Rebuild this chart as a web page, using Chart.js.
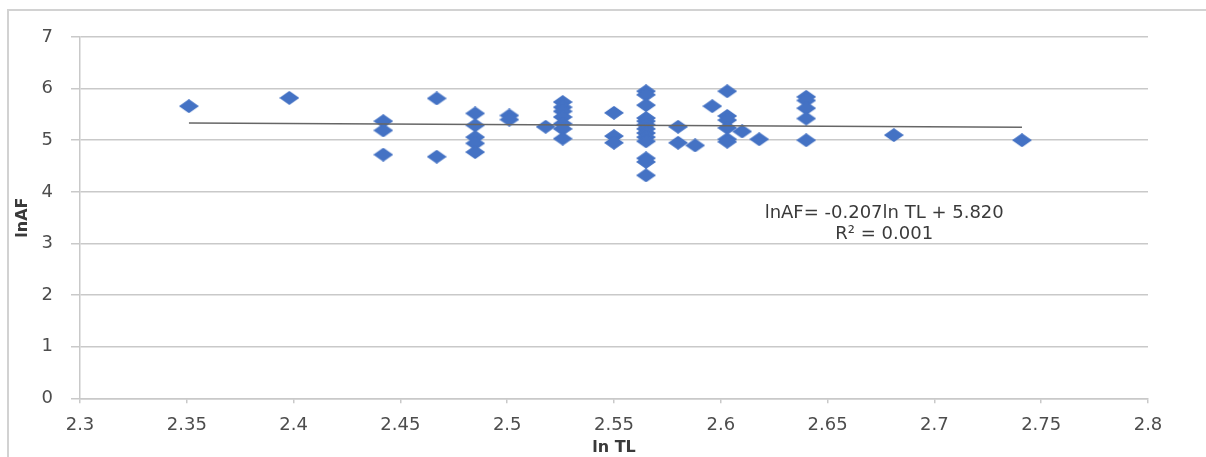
<!DOCTYPE html>
<html>
<head>
<meta charset="utf-8">
<script src="https://cdn.jsdelivr.net/npm/chart.js@4.4.1/dist/chart.umd.min.js"></script>
<style>
    html, body { margin: 0; padding: 0; background: #fff; overflow: hidden; }
    #scatter { display: block; }
</style>
</head>
<body>
<canvas id="scatter" width="1206" height="457"></canvas>
<script>
// ln TL (x) contra ln AF (y), un punto por ejemplar
const lnTL = [
    2.351,
    2.398,
    2.442, 2.442, 2.442,
    2.467, 2.467,
    2.485, 2.485, 2.485, 2.485, 2.485,
    2.501, 2.501,
    2.518,
    2.526, 2.526, 2.526, 2.526, 2.526, 2.526, 2.526,
    2.550, 2.550, 2.550,
    2.565, 2.565, 2.565, 2.565, 2.565, 2.565, 2.565, 2.565, 2.565, 2.565, 2.565, 2.565, 2.565,
    2.580, 2.580,
    2.588,
    2.596,
    2.603, 2.603, 2.603, 2.603, 2.603, 2.603,
    2.610,
    2.618,
    2.640, 2.640, 2.640, 2.640, 2.640,
    2.681,
    2.741,
];
const lnAF = [
    5.66,
    5.82,
    5.37, 5.19, 4.72,
    5.81, 4.68,
    5.52, 5.29, 5.06, 4.94, 4.77,
    5.48, 5.40,
    5.26,
    5.74, 5.64, 5.56, 5.45, 5.32, 5.22, 5.03,
    5.53, 5.08, 4.95,
    5.95, 5.88, 5.68, 5.43, 5.37, 5.30, 5.22, 5.14, 5.06, 4.98, 4.65, 4.58, 4.32,
    5.26, 4.95,
    4.90,
    5.66,
    5.95, 5.47, 5.39, 5.24, 5.02, 4.97,
    5.17,
    5.02,
    5.84, 5.77, 5.62, 5.42, 5.00,
    5.10,
    5.00,
];

const xTickValues = [2.3, 2.35, 2.4, 2.45, 2.5, 2.55, 2.6, 2.65, 2.7, 2.75, 2.8];
const xTickLabels = ['2.3', '2.35', '2.4', '2.45', '2.5', '2.55', '2.6', '2.65', '2.7', '2.75', '2.8'];
const yTickValues = [0, 1, 2, 3, 4, 5, 6, 7];

// recta de regresión: lnAF = -0.207 lnTL + 5.820
const trendSlope = -0.207;
const trendIntercept = 5.820;
const trendLines = ['lnAF= -0.207ln TL + 5.820', 'R\u00b2 = 0.001'];

const FONT = "'DejaVu Sans', sans-serif";
const GRID = '#c9c9c9';
const BLUE = '#4472C4';

const points = lnTL.map((x, i) => ({ x, y: lnAF[i] }));
const xMin = Math.min(...lnTL);
const xMax = Math.max(...lnTL);
const trend = [xMin, xMax].map(x => ({ x, y: trendSlope * x + trendIntercept }));

// rombo ancho, como el marcador de Excel
const diamond = document.createElement('canvas');
diamond.width = 20;
diamond.height = 14;
const dc = diamond.getContext('2d');
dc.fillStyle = BLUE;
dc.beginPath();
dc.moveTo(10, 0);
dc.lineTo(20, 7);
dc.lineTo(10, 14);
dc.lineTo(0, 7);
dc.closePath();
dc.fill();

// marco del área del gráfico (solo bordes izquierdo y superior)
const chartFrame = {
    id: 'chartFrame',
    beforeDraw(chart) {
        const { ctx, width, height } = chart;
        ctx.save();
        ctx.strokeStyle = '#d2d2d2';
        ctx.lineWidth = 2;
        ctx.beginPath();
        ctx.moveTo(8, height);
        ctx.lineTo(8, 10);
        ctx.lineTo(width, 10);
        ctx.stroke();
        ctx.restore();
    },
};

// texto de la ecuación junto a la recta
const trendText = {
    id: 'trendText',
    afterDatasetsDraw(chart) {
        const { ctx, scales: { x, y } } = chart;
        const cx = x.getPixelForValue(2.6765);
        const cy = y.getPixelForValue(3.59);
        ctx.save();
        ctx.fillStyle = '#3a3a3a';
        ctx.font = `18px ${FONT}`;
        ctx.textAlign = 'center';
        ctx.textBaseline = 'middle';
        trendLines.forEach((t, i) => ctx.fillText(t, cx, cy + i * 21));
        ctx.restore();
    },
};

new Chart(document.getElementById('scatter'), {
    type: 'scatter',
    data: {
        datasets: [
            {
                data: points,
                pointStyle: diamond,
                pointRadius: 8,
                pointHoverRadius: 8,
                order: 2,
            },
            {
                type: 'line',
                data: trend,
                borderColor: '#666',
                borderWidth: 1.5,
                pointRadius: 0,
                fill: false,
                order: 1,
            },
        ],
    },
    options: {
        responsive: false,
        animation: false,
        devicePixelRatio: 1,
        layout: { padding: { top: 37, right: 58, bottom: 0, left: 0 } },
        plugins: {
            legend: { display: false },
            tooltip: { enabled: false },
        },
        scales: {
            x: {
                type: 'linear',
                min: 2.3,
                max: 2.8,
                afterBuildTicks: (s) => { s.ticks = xTickValues.map(value => ({ value })); },
                afterFit: (s) => { s.height = 58.7; },
                grid: { drawOnChartArea: false, drawTicks: true, tickLength: 5, color: GRID, lineWidth: 1.5 },
                border: { display: true, color: GRID, width: 1.5 },
                ticks: {
                    padding: 11,
                    color: '#4d4d4d',
                    font: { family: FONT, size: 18 },
                    callback: (v, i) => xTickLabels[i],
                },
                title: {
                    display: true,
                    text: 'ln TL',
                    color: '#3a3a3a',
                    font: { family: FONT, size: 16, weight: 'bold' },
                    padding: { top: 0, bottom: 0 },
                },
            },
            y: {
                min: 0,
                max: 7,
                afterBuildTicks: (s) => { s.ticks = yTickValues.map(value => ({ value })); },
                afterFit: (s) => { s.width = 80; },
                grid: { color: GRID, lineWidth: 1.5, tickLength: 9 },
                border: { display: true, color: GRID, width: 1.5 },
                ticks: {
                    padding: 18,
                    color: '#4d4d4d',
                    font: { family: FONT, size: 18 },
                },
                title: {
                    display: true,
                    text: 'lnAF',
                    color: '#3a3a3a',
                    font: { family: FONT, size: 16, weight: 'bold' },
                    padding: { top: 13, bottom: 0 },
                },
            },
        },
    },
    plugins: [chartFrame, trendText],
});
</script>
</body>
</html>
